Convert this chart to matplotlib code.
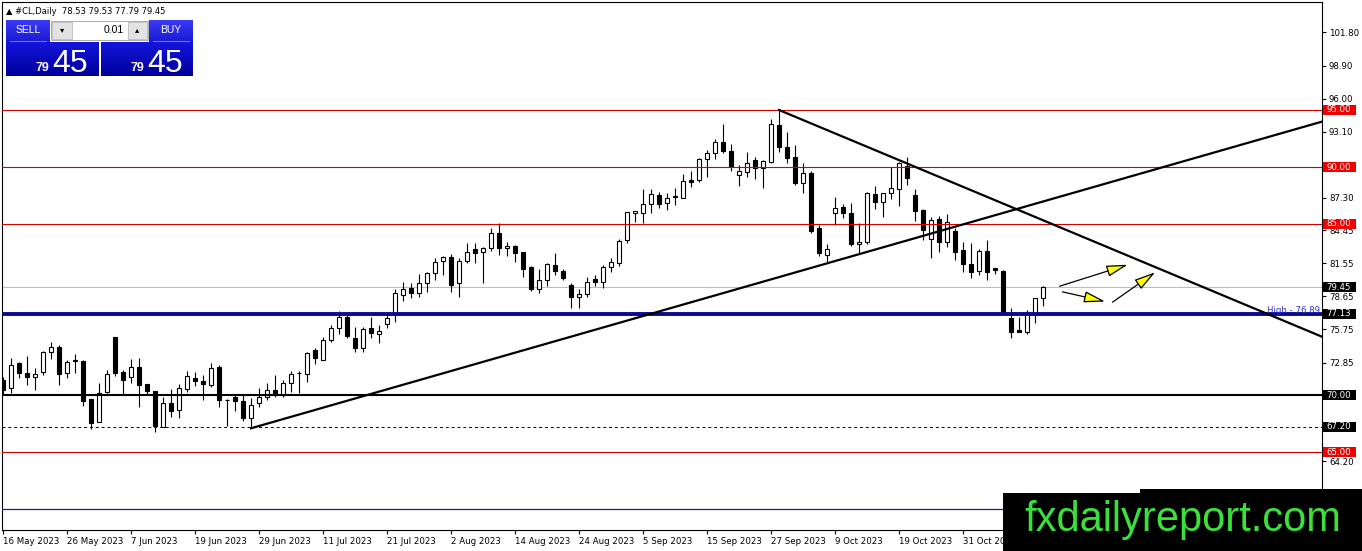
import numpy as np
import matplotlib
matplotlib.use('Agg')
import matplotlib.pyplot as plt
from matplotlib.patches import Rectangle, FancyArrowPatch
from matplotlib.colors import LinearSegmentedColormap

# ---------------- data (daily candles, #CL) ----------------
opens = [71.32, 70.59, 72.78, 71.90, 71.61, 72.05, 73.74, 74.18, 71.90, 73.02,
         72.98, 69.65, 67.60, 70.23, 75.12, 72.05, 71.55, 72.43, 70.94, 70.35,
         67.16, 69.27, 68.68, 70.49, 71.46, 71.22, 70.87, 72.42, 69.60, 69.79,
         69.47, 67.95, 69.27, 69.79, 70.43, 70.00, 71.02, 71.90, 71.84, 73.94,
         73.07, 74.83, 75.85, 76.87, 74.97, 74.09, 75.85, 75.32, 76.20, 77.16,
         78.80, 79.36, 78.92, 79.80, 80.67, 81.76, 82.08, 79.80, 81.76, 82.81,
         82.57, 82.87, 84.24, 82.87, 83.07, 82.57, 81.20, 79.27, 80.09, 81.40,
         80.91, 79.65, 78.57, 78.83, 80.17, 79.94, 81.26, 81.61, 83.60, 86.00,
         85.94, 86.73, 87.55, 86.82, 87.46, 87.26, 88.87, 88.87, 90.68, 91.20,
         92.17, 91.41, 89.30, 89.54, 90.62, 89.89, 90.47, 93.69, 91.79, 90.85,
         88.63, 89.51, 84.62, 82.28, 85.94, 86.47, 85.94, 83.25, 83.45, 87.63,
         86.96, 87.75, 88.04, 90.09, 87.55, 86.22, 83.68, 85.44, 83.45, 84.38,
         82.72, 81.46, 80.87, 82.63, 81.17, 80.87, 76.78, 75.70, 75.55, 77.07,
         78.53]
highs = [71.60, 73.22, 72.93, 73.42, 72.34, 73.85, 74.68, 74.39, 73.07, 73.57,
         73.07, 69.65, 71.08, 72.19, 75.12, 72.19, 73.13, 73.22, 70.94, 70.35,
         69.80, 70.49, 70.93, 72.13, 72.04, 71.75, 72.77, 72.63, 69.62, 70.00,
         70.09, 69.70, 70.58, 71.02, 71.75, 71.31, 72.13, 72.13, 73.80, 74.09,
         75.05, 76.14, 77.37, 77.31, 76.00, 76.00, 76.87, 76.14, 77.25, 79.30,
         79.88, 79.80, 80.60, 80.80, 82.05, 82.19, 82.34, 82.00, 83.30, 83.30,
         83.01, 84.62, 85.06, 83.45, 83.16, 82.57, 81.32, 81.02, 81.61, 82.49,
         81.02, 79.80, 79.27, 80.38, 80.53, 81.40, 81.99, 83.66, 86.02, 86.16,
         88.07, 88.07, 87.78, 87.69, 88.13, 89.36, 89.65, 90.82, 91.49, 92.46,
         93.75, 91.99, 90.18, 91.29, 90.91, 90.62, 94.21, 95.09, 93.10, 91.93,
         90.32, 89.68, 84.91, 83.25, 87.34, 86.76, 86.82, 85.12, 87.84, 88.34,
         87.75, 89.97, 90.47, 90.85, 88.04, 86.30, 85.64, 85.73, 85.87, 84.62,
         83.45, 83.36, 82.80, 83.59, 81.17, 80.96, 77.60, 76.87, 77.45, 78.54,
         79.53]
lows = [70.10, 70.15, 71.46, 70.88, 70.44, 71.76, 73.13, 70.88, 71.46, 71.96,
        69.04, 66.99, 67.60, 70.15, 71.70, 70.09, 71.02, 68.98, 70.09, 66.78,
        67.16, 68.04, 67.95, 70.30, 70.79, 69.56, 70.67, 68.91, 67.28, 68.62,
        67.75, 67.07, 68.91, 69.56, 69.79, 69.85, 70.29, 70.20, 71.17, 72.72,
        73.07, 74.62, 75.32, 74.97, 73.80, 73.80, 75.03, 74.53, 75.85, 76.43,
        78.25, 78.54, 78.63, 79.07, 80.09, 80.53, 79.01, 78.63, 81.55, 81.55,
        79.85, 82.66, 82.28, 82.19, 81.70, 80.38, 79.15, 78.92, 79.56, 80.53,
        80.09, 77.60, 77.60, 78.63, 79.56, 79.36, 80.82, 81.32, 83.36, 85.20,
        85.06, 85.94, 86.38, 86.23, 86.67, 87.26, 88.28, 88.66, 89.16, 90.71,
        91.20, 89.65, 88.37, 89.16, 88.95, 88.19, 90.33, 91.35, 90.32, 88.42,
        87.75, 84.18, 82.19, 81.55, 84.91, 85.50, 83.07, 82.37, 83.25, 86.29,
        85.59, 87.17, 86.58, 88.42, 85.30, 83.59, 82.04, 82.57, 83.01, 81.84,
        80.76, 80.29, 80.52, 80.08, 80.58, 77.16, 74.97, 75.55, 75.32, 76.28,
        77.79]
closes = [70.44, 72.63, 71.90, 71.61, 71.84, 73.74, 74.18, 71.81, 72.87, 73.07,
          69.50, 67.52, 70.15, 71.84, 71.90, 71.32, 72.43, 70.88, 70.35, 67.28,
          69.27, 68.62, 70.58, 71.69, 71.22, 70.93, 72.34, 69.56, 69.52, 69.50,
          67.95, 69.12, 69.79, 70.43, 70.00, 71.02, 71.84, 71.96, 73.65, 73.21,
          74.82, 75.85, 76.87, 75.20, 74.09, 75.76, 75.41, 75.64, 76.78, 78.92,
          79.27, 78.92, 79.80, 80.67, 81.70, 82.13, 79.65, 81.76, 82.57, 82.43,
          82.87, 84.18, 82.87, 83.07, 82.43, 81.02, 79.27, 80.09, 81.46, 80.91,
          80.29, 78.57, 78.83, 79.94, 79.94, 81.26, 81.70, 83.54, 86.02, 86.10,
          86.73, 87.61, 86.73, 87.26, 87.34, 88.78, 88.72, 90.68, 91.20, 92.23,
          91.44, 90.12, 89.65, 90.33, 89.89, 90.53, 93.75, 91.79, 90.76, 88.63,
          89.45, 84.42, 82.43, 82.78, 86.38, 85.94, 83.25, 83.45, 87.69, 86.96,
          87.69, 88.13, 90.38, 89.01, 86.15, 84.47, 85.35, 83.45, 85.14, 82.51,
          81.46, 80.81, 82.63, 80.81, 80.96, 77.16, 75.55, 75.55, 77.31, 78.48,
          79.45]

date_tick_pos = [0, 8, 16, 24, 32, 40, 48, 56, 64, 72, 80, 88, 96, 104, 112, 120]
date_tick_labels = ["16 May 2023", "26 May 2023", "7 Jun 2023", "19 Jun 2023",
                    "29 Jun 2023", "11 Jul 2023", "21 Jul 2023", "2 Aug 2023",
                    "14 Aug 2023", "24 Aug 2023", "5 Sep 2023", "15 Sep 2023",
                    "27 Sep 2023", "9 Oct 2023", "19 Oct 2023", "31 Oct 2023"]
price_ticks = [101.80, 98.90, 96.00, 93.10, 87.30, 84.45, 81.55, 78.65, 75.75,
               72.85, 64.20]

red_levels = [95.00, 90.00, 85.00, 65.00]
bid_price = 79.45
blue_level = 77.13
black_level = 70.00
dashed_level = 67.20
navy_level = 60.00

trend_up_x = [31, 170]
trend_up_y = [67.08, 95.01]
trend_down_x = [97, 170]
trend_down_y = [95.00, 73.61]

arrow_x0 = [131.75, 132.1, 138.4]
arrow_y0 = [79.47, 79.10, 78.00]
arrow_x1 = [140.9, 138.1, 144.3]
arrow_y1 = [81.50, 78.15, 80.90]

W, H = 1362, 551
fig = plt.figure(figsize=(W / 100, H / 100), dpi=100)
fig.patch.set_facecolor('white')
ax = fig.add_axes([2 / W, (H - 530) / H, 1320 / W, 528 / H])
ax.set_xlim(-0.125, 164.875)
ax.set_ylim(95 - 420 / 11.4, 95 + 108 / 11.4)

O = np.array(opens); Hh = np.array(highs); L = np.array(lows); C = np.array(closes)
idx = np.arange(len(O))
up = C >= O
bot = np.minimum(O, C)
hgt = np.maximum(np.abs(C - O), 0.07)

ax.vlines(idx, L, Hh, color='black', lw=0.8, zorder=3)
ax.bar(idx[up], hgt[up], bottom=bot[up], width=0.5, facecolor='white',
       edgecolor='black', lw=0.8, zorder=4)
ax.bar(idx[~up], hgt[~up], bottom=bot[~up], width=0.5, facecolor='black',
       edgecolor='black', lw=0.8, zorder=4)

for lv in red_levels:
    ax.axhline(lv, color='#d40000', lw=0.8, zorder=5)
ax.axhline(bid_price, color='#bdbdbd', lw=0.8, zorder=2)
ax.axhline(blue_level, color='#0a0a8c', lw=2.8, zorder=5)
ax.axhline(black_level, color='black', lw=1.5, zorder=5)
ax.axhline(dashed_level, color='black', lw=0.7, ls=(0, (3, 3)), zorder=5)
ax.axhline(navy_level, color='#1a1a80', lw=0.9, zorder=5)

ax.plot(trend_up_x, trend_up_y, color='black', lw=1.6, zorder=6)
ax.plot(trend_down_x, trend_down_y, color='black', lw=1.6, zorder=6)

for a, b, c, d in zip(arrow_x0, arrow_y0, arrow_x1, arrow_y1):
    ax.add_patch(FancyArrowPatch((a, b), (c, d),
                 arrowstyle='-|>,head_length=13,head_width=3.5', mutation_scale=1,
                 facecolor='#ffff00', edgecolor='black', lw=0.9, zorder=7))

ax.text(0.9985, 77.22, 'High - 76.89', transform=ax.get_yaxis_transform(),
        ha='right', va='baseline', color='#3030d0', fontsize=6.2, zorder=7)

# axes styling
for s in ax.spines.values():
    s.set_color('black'); s.set_linewidth(0.8)
ax.yaxis.tick_right()
ax.set_yticks(price_ticks)
ax.set_yticklabels([f'{v:.2f}' for v in price_ticks])
ax.set_xticks(date_tick_pos)
ax.set_xticklabels(date_tick_labels)
for t in ax.get_xticklabels():
    t.set_ha('left')
ax.tick_params(axis='both', direction='out', length=3, width=0.8, pad=2,
               labelsize=6.2, colors='black')

# price label boxes on the right scale
box_levels = [(95.00, '#ee0000'), (90.00, '#ee0000'), (85.00, '#ee0000'),
              (79.45, 'black'), (77.13, 'black'), (70.00, 'black'),
              (67.20, 'black'), (65.00, '#ee0000')]
tr = ax.get_yaxis_transform()
for lv, col in box_levels:
    ax.add_patch(Rectangle((1.0008, lv - 0.42), 0.025, 0.84, transform=tr,
                           facecolor=col, edgecolor='none', clip_on=False, zorder=8))
    ax.text(1.0035, lv, f'{lv:.2f}', transform=tr, color='white', fontsize=6.2,
            ha='left', va='center', clip_on=False, zorder=9)

# overlay in pixel coordinates
ov = fig.add_axes([0, 0, 1, 1], zorder=10)
ov.patch.set_alpha(0)
ov.axis('off')


def grad(x0, y0, x1, y1, ctop, cbot):
    cm = LinearSegmentedColormap.from_list('g', [ctop, cbot])
    ov.imshow(np.linspace(0, 1, 64)[:, None], extent=(x0, x1, y1, y0), cmap=cm,
              aspect='auto', interpolation='bilinear', origin='upper')


ov.text(6, 11, '\u25B2 #CL,Daily  78.53 79.53 77.79 79.45', fontsize=6, va='center',
        ha='left', color='black')
# SELL / BUY buttons
grad(6, 20, 50, 42, '#3b3bf5', '#1a1ad6')
grad(149, 20, 193, 42, '#3b3bf5', '#1a1ad6')
ov.plot([10, 46], [41, 41], color='#8c8cff', lw=0.6)
ov.plot([153, 189], [41, 41], color='#8c8cff', lw=0.6)
ov.text(28, 30, 'SELL', color='white', fontsize=7.5, ha='center', va='center',
        family='Liberation Sans')
ov.text(171, 30, 'BUY', color='white', fontsize=7.5, ha='center', va='center',
        family='Liberation Sans')
# spinner
ov.add_patch(Rectangle((51, 21), 97, 19, facecolor='white', edgecolor='#a0a0a0', lw=0.6))
ov.add_patch(Rectangle((52, 22), 20, 17, facecolor='#e3e3e3', edgecolor='#b0b0b0', lw=0.5))
ov.add_patch(Rectangle((128, 22), 19, 17, facecolor='#e3e3e3', edgecolor='#b0b0b0', lw=0.5))
ov.text(62, 30, '\u25BE', fontsize=6, ha='center', va='center', color='black')
ov.text(137.5, 30, '\u25B4', fontsize=6, ha='center', va='center', color='black')
ov.text(124, 30, '0.01', fontsize=7.5, ha='right', va='center', color='black',
        family='Liberation Sans')
# big price boxes
grad(6, 42, 99, 76, '#1414dc', '#00009c')
grad(101, 42, 193, 76, '#1414dc', '#00009c')
for xr in (49, 144):
    ov.text(xr, 71, '79', fontsize=9, ha='right', va='baseline', color='white',
            family='Liberation Sans', weight='bold')
    ov.text(xr + 3, 72, '45', fontsize=23, ha='left', va='baseline', color='white',
            family='Liberation Sans')

# watermark
ov.add_patch(Rectangle((1003, 493), 359, 58, facecolor='black', edgecolor='none'))
ov.add_patch(Rectangle((1140, 489), 222, 6, facecolor='black', edgecolor='none'))
ov.text(1183, 531, 'fxdailyreport.com', fontsize=30, ha='center', va='baseline',
        color='#3be03b', family='Liberation Sans')

ov.set_xlim(0, W)
ov.set_ylim(H, 0)

fig.savefig('out.png', dpi=100)
